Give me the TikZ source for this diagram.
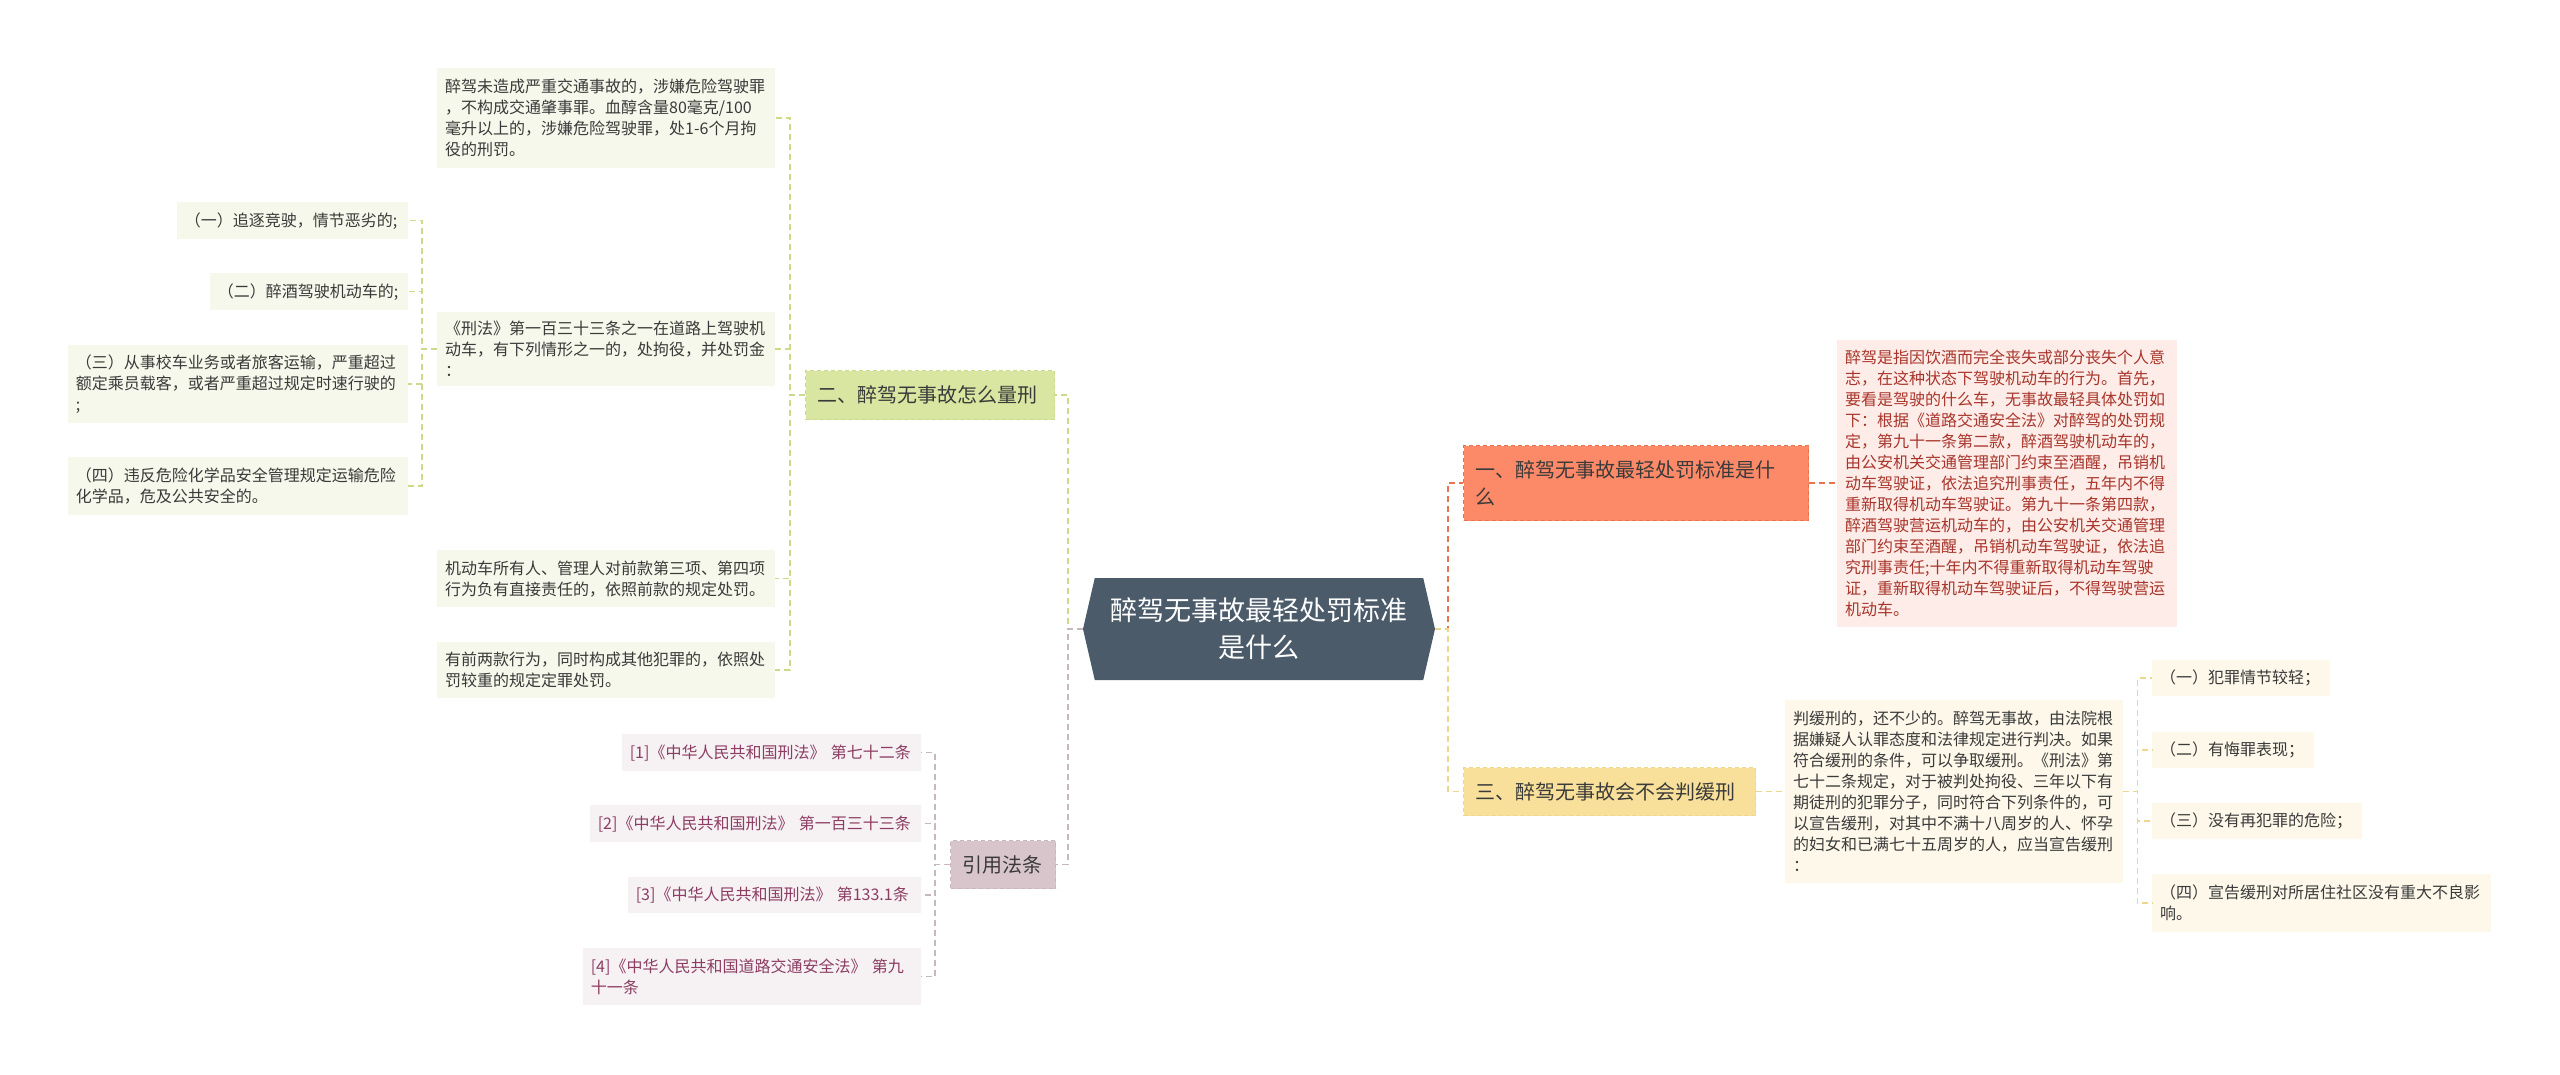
\documentclass[tikz,border=0pt]{standalone}
\usepackage{fontspec}
\setmainfont{Noto Sans CJK SC}
\usetikzlibrary{shapes.symbols}

\definecolor{hub}{HTML}{4B5B6A}
\definecolor{lime}{HTML}{D8E6A2}
\definecolor{limeleaf}{HTML}{F5F8EA}
\definecolor{limeline}{HTML}{CBDB8C}
\definecolor{mauve}{HTML}{D8C5CC}
\definecolor{mauveleaf}{HTML}{F6F1F3}
\definecolor{mauveline}{HTML}{C8B7BE}
\definecolor{mauvetext}{HTML}{8C3D63}
\definecolor{coral}{HTML}{FC8A68}
\definecolor{coralleaf}{HTML}{FDECE7}
\definecolor{coralline}{HTML}{E9724F}
\definecolor{coraltext}{HTML}{A8352B}
\definecolor{sand}{HTML}{F9E09A}
\definecolor{sandleaf}{HTML}{FDF8EA}
\definecolor{sandline}{HTML}{EDD68E}
\definecolor{ink}{HTML}{3A3A3A}

\tikzset{
  leaf/.style={font=\fontsize{16}{21}\selectfont, align=left, inner xsep=8pt, inner ysep=0pt, text=ink},
  branch/.style={font=\fontsize{20}{27}\selectfont, align=left, inner xsep=12pt, inner ysep=0pt,
    text=ink, draw, dash pattern=on 4pt off 3pt, line width=1pt},
  link/.style={dash pattern=on 6pt off 4pt, line width=1.5pt},
}

\begin{document}
\begin{tikzpicture}[x=1pt, y=-1pt]
  \fill[white] (0,0) rectangle (2560,1075);
  \useasboundingbox (0,0) rectangle (2560,1075);

  % centre
  \node[signal, signal to=east and west, signal pointer angle=154, fill=hub, text=white,
    font=\fontsize{27}{37}\selectfont, align=center, minimum width=352pt, minimum height=102pt,
    inner sep=0pt] (root) at (1259,629) {醉驾无事故最轻处罚标准\\是什么};

  % left branches
  \node[branch, fill=lime, draw=limeline, anchor=north west, text width=225pt, minimum height=49pt]
    (b2) at (805,370) {二、醉驾无事故怎么量刑};
  \node[branch, fill=mauve, draw=mauveline, anchor=north west, text width=81pt, minimum height=48pt]
    (r0) at (950,840) {引用法条};
  \draw[link, limeline] (root.west) -- ++(-15,0) |- (b2.east);
  \draw[link, mauveline] (root.west) -- ++(-15,0) |- (r0.east);

  \foreach \n/\t/\h/\txt in {
    a1/68/100/{醉驾未造成严重交通事故的，涉嫌危险驾驶罪\\，不构成交通肇事罪。血醇含量80毫克/100\\毫升以上的，涉嫌危险驾驶罪，处1-6个月拘\\役的刑罚。},
    a2/312/74/{《刑法》第一百三十三条之一在道路上驾驶机\\动车，有下列情形之一的，处拘役，并处罚金\\：},
    a3/550/57/{机动车所有人、管理人对前款第三项、第四项\\行为负有直接责任的，依照前款的规定处罚。},
    a4/642/56/{有前两款行为，同时构成其他犯罪的，依照处\\罚较重的规定定罪处罚。}%
  }
  {
    \node[leaf, fill=limeleaf, anchor=north west, text width=322pt, minimum height=\h pt] (\n) at (437,\t) {\txt};
    \draw[link, limeline] (b2.west) -- ++(-15,0) |- (\n.east);
  }

  \foreach \n/\t/\w/\h/\txt in {
    l1/202/215/37/{（一）追逐竞驶，情节恶劣的;},
    l2/273/182/37/{（二）醉酒驾驶机动车的;},
    l3/345/324/78/{（三）从事校车业务或者旅客运输，严重超过\\额定乘员载客，或者严重超过规定时速行驶的\\;},
    l4/457/324/58/{（四）违反危险化学品安全管理规定运输危险\\化学品，危及公共安全的。}%
  }
  {
    \node[leaf, fill=limeleaf, anchor=north east, text width=\w pt, minimum height=\h pt] (\n) at (408,\t) {\txt};
    \draw[link, limeline] (a2.west) -- ++(-15,0) |- (\n.east);
  }

  \foreach \n/\t/\w/\h/\txt in {
    r1/734/283/37/{[1]《中华人民共和国刑法》 第七十二条},
    r2/805/315/37/{[2]《中华人民共和国刑法》 第一百三十三条},
    r3/877/277/36/{[3]《中华人民共和国刑法》 第133.1条},
    r4/948/322/57/{[4]《中华人民共和国道路交通安全法》 第九\\十一条}%
  }
  {
    \node[leaf, fill=mauveleaf, text=mauvetext, anchor=north east, text width=\w pt, minimum height=\h pt] (\n) at (921,\t) {\txt};
    \draw[link, mauveline] (r0.west) -- ++(-15,0) |- (\n.east);
  }

  % right branches
  \node[branch, fill=coral, draw=coralline, anchor=north west, text width=321pt, minimum height=75pt]
    (b1) at (1463,445) {一、醉驾无事故最轻处罚标准是什\\么};
  \node[branch, fill=sand, draw=sandline, anchor=north west, text width=268pt, minimum height=48pt]
    (b3) at (1463,767) {三、醉驾无事故会不会判缓刑};
  \draw[link, coralline] (root.east) -- ++(13,0) |- (b1.west);
  \draw[link, sandline] (root.east) -- ++(13,0) |- (b3.west);

  \node[leaf, fill=coralleaf, text=coraltext, anchor=north west, text width=324pt, minimum height=287pt]
    (b1t) at (1837,340) {醉驾是指因饮酒而完全丧失或部分丧失个人意\\志，在这种状态下驾驶机动车的行为。首先，\\要看是驾驶的什么车，无事故最轻具体处罚如\\下：根据《道路交通安全法》对醉驾的处罚规\\定，第九十一条第二款，醉酒驾驶机动车的，\\由公安机关交通管理部门约束至酒醒，吊销机\\动车驾驶证，依法追究刑事责任，五年内不得\\重新取得机动车驾驶证。第九十一条第四款，\\醉酒驾驶营运机动车的，由公安机关交通管理\\部门约束至酒醒，吊销机动车驾驶证，依法追\\究刑事责任;十年内不得重新取得机动车驾驶\\证，重新取得机动车驾驶证后，不得驾驶营运\\机动车。};
  \draw[link, coralline] (b1.east) -- (b1.east -| b1t.west);

  \node[leaf, fill=sandleaf, anchor=north west, text width=322pt, minimum height=183pt]
    (b3t) at (1785,700) {判缓刑的，还不少的。醉驾无事故，由法院根\\据嫌疑人认罪态度和法律规定进行判决。如果\\符合缓刑的条件，可以争取缓刑。《刑法》第\\七十二条规定，对于被判处拘役、三年以下有\\期徒刑的犯罪分子，同时符合下列条件的，可\\以宣告缓刑，对其中不满十八周岁的人、怀孕\\的妇女和已满七十五周岁的人，应当宣告缓刑\\：};
  \draw[link, sandline] (b3.east) -- (b3.east -| b3t.west);

  \foreach \n/\t/\w/\h/\txt in {
    s1/660/162/36/{（一）犯罪情节较轻；},
    s2/732/146/36/{（二）有悔罪表现；},
    s3/803/194/36/{（三）没有再犯罪的危险；},
    s4/874/323/58/{（四）宣告缓刑对所居住社区没有重大不良影\\响。}%
  }
  {
    \node[leaf, fill=sandleaf, anchor=north west, text width=\w pt, minimum height=\h pt] (\n) at (2152,\t) {\txt};
    \draw[link, sandline] (b3t.east) -- ++(14,0) |- (\n.west);
  }
\end{tikzpicture}
\end{document}
